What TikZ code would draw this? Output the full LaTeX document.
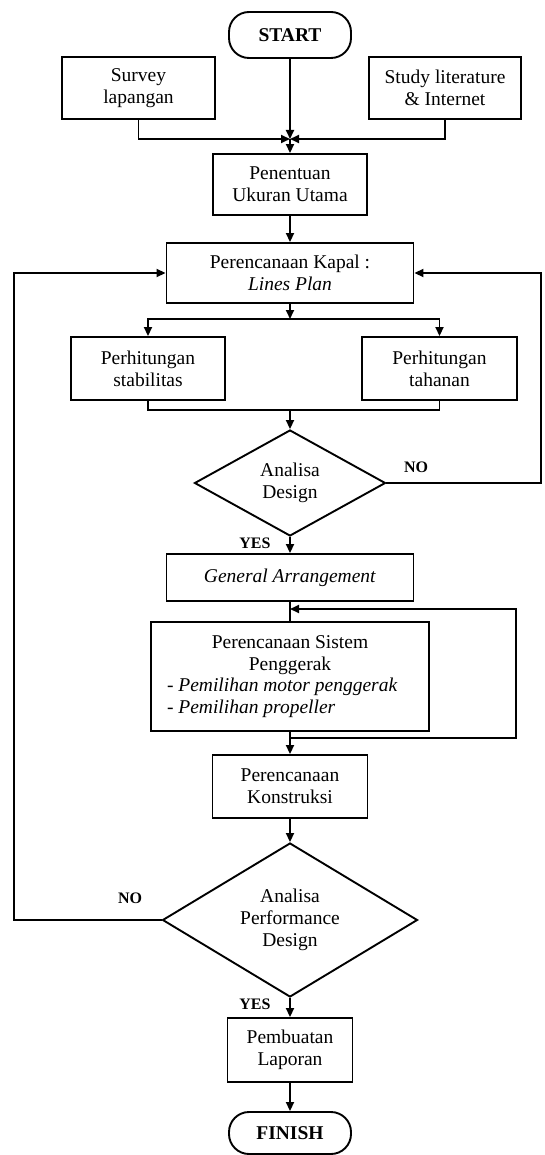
\documentclass[tikz,border=0pt]{standalone}
\usepackage{fontspec}
\setmainfont{Liberation Serif}
\usetikzlibrary{shapes.geometric,arrows.meta}
\begin{document}
\begin{tikzpicture}[x=1pt,y=-1pt,
  box/.style={draw,line width=1.9pt,align=center,inner sep=0pt,
    font=\fontsize{19.5}{22}\selectfont},
  term/.style={box,rounded corners=20pt,font=\bfseries\fontsize{19.5}{22}\selectfont},
  dec/.style={draw,diamond,line width=1.9pt,align=center,inner sep=0pt,
    font=\fontsize{19.5}{22}\selectfont},
  arr/.style={-{Triangle[length=9pt,width=8pt]},line width=1.8pt},
  ln/.style={line width=1.8pt},
  lbl/.style={font=\bfseries\fontsize{16}{18}\selectfont}]
\useasboundingbox (0,0) rectangle (544,1155);
\fill[white] (0,0) rectangle (544,1155);

\node[term,minimum width=122pt,minimum height=46pt] (start) at (290,35) {START};
\node[box,minimum width=153pt,minimum height=62pt] (survey) at (138.5,88) {Survey\\lapangan};
\node[box,minimum width=152pt,minimum height=62pt] (study) at (445,88) {Study literature\\\& Internet};
\node[box,minimum width=154pt,minimum height=61pt] (pen) at (290,184.5) {Penentuan\\Ukuran Utama};
\node[box,minimum width=247pt,minimum height=60pt] (kapal) at (290,273) {Perencanaan Kapal :\\\textit{Lines Plan}};
\node[box,minimum width=154pt,minimum height=63pt] (stab) at (148,368.5) {Perhitungan\\stabilitas};
\node[box,minimum width=155pt,minimum height=63pt] (tah) at (439.5,368.5) {Perhitungan\\tahanan};
\node[dec,shape aspect=1.8,minimum width=191pt,minimum height=106pt] (d1) at (290,483) {Analisa\\Design};
\node[box,minimum width=247pt,minimum height=47pt] (ga) at (290,577.5) {\textit{General Arrangement}};
\node[box,minimum width=278pt,minimum height=109pt] (psp) at (290,676.5) {Perencanaan Sistem\\Penggerak\\[-1pt]
  \makebox[246pt][l]{- \textit{Pemilihan motor penggerak}}\\
  \makebox[246pt][l]{- \textit{Pemilihan propeller}}};
\node[box,minimum width=155pt,minimum height=63pt] (konst) at (290,786.5) {Perencanaan\\Konstruksi};
\node[dec,shape aspect=1.66,minimum width=255pt,minimum height=154pt] (d2) at (290,920) {Analisa\\Performance\\Design};
\node[box,minimum width=125pt,minimum height=64pt] (lap) at (290,1050) {Pembuatan\\Laporan};
\node[term,minimum width=122pt,minimum height=42pt] (finish) at (290,1133) {FINISH};

\node[lbl] (no1) at (416,467) {NO};
\node[lbl] (yes1) at (255,543) {YES};
\node[lbl] (no2) at (130,898) {NO};
\node[lbl] (yes2) at (255,1004) {YES};

% top merge
\coordinate (m1) at (290,139);
\draw[arr] (survey.south) |- (m1);
\draw[arr] (study.south) |- (m1);
\draw[arr] (start.south) -- (m1);
\draw[arr] (m1) -- (pen.north);
\draw[arr] (pen.south) -- (kapal.north);

% split
\coordinate (s1) at (290,319);
\draw[arr] (kapal.south) -- (s1);
\draw[arr] (s1) -| (stab.north);
\draw[arr] (s1) -| (tah.north);

% join
\coordinate (j1) at (290,410);
\draw[ln] (stab.south) |- (j1);
\draw[ln] (tah.south) |- (j1);
\draw[arr] (j1) -- (d1.north);

% NO loop right
\coordinate (r1) at (541,483);
\draw[arr] (d1.east) -- (r1) |- (kapal.east);

\draw[arr] (d1.south) -- (ga.north);

% propulsion loop
\coordinate (g1) at (290,609);
\coordinate (p1) at (290,738);
\coordinate (lr1) at (516,738);
\coordinate (lr2) at (516,609);
\draw[ln] (ga.south) -- (psp.north);
\draw[arr] (p1) -- (lr1) -- (lr2) -- (g1);
\draw[ln] (psp.south) -- (p1);
\draw[arr] (p1) -- (konst.north);

\draw[arr] (konst.south) -- (d2.north);

% NO loop left
\coordinate (l1) at (14,920);
\draw[arr] (d2.west) -- (l1) |- (kapal.west);

\draw[arr] (d2.south) -- (lap.north);
\draw[arr] (lap.south) -- (finish.north);
\end{tikzpicture}
\end{document}
